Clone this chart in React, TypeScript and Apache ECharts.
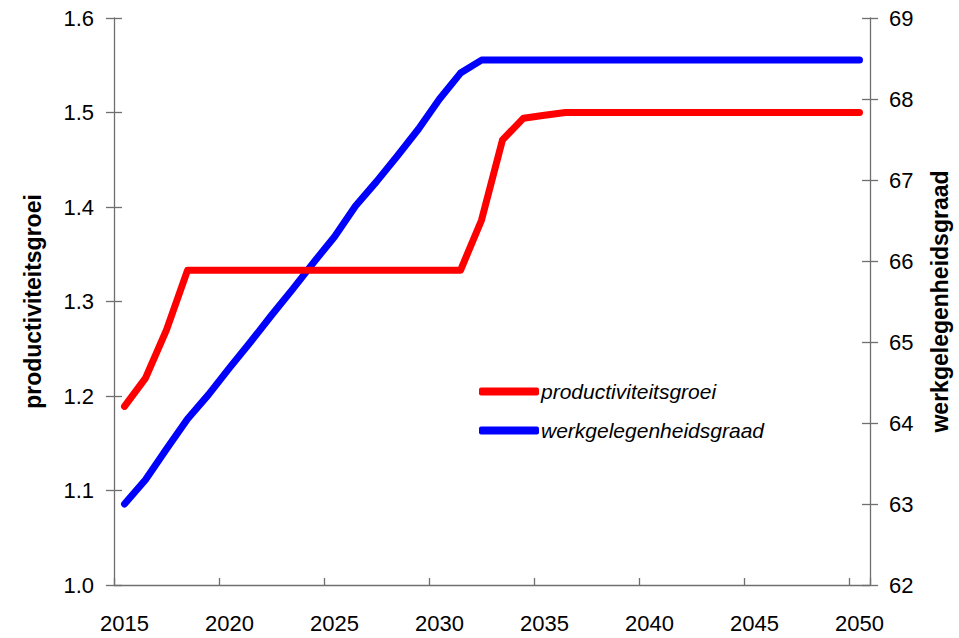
import React, { useEffect, useRef } from "react";
import * as echarts from "echarts";

const years: string[] = [];
for (let y = 2015; y <= 2050; y++) years.push(String(y));

const productiviteitsgroei = [
  1.189, 1.219, 1.27, 1.333, 1.333, 1.333, 1.333, 1.333, 1.333, 1.333,
  1.333, 1.333, 1.333, 1.333, 1.333, 1.333, 1.333, 1.386, 1.471, 1.494,
  1.497, 1.5, 1.5, 1.5, 1.5, 1.5, 1.5, 1.5, 1.5, 1.5,
  1.5, 1.5, 1.5, 1.5, 1.5, 1.5,
];

const werkgelegenheidsgraad = [
  63.0, 63.3, 63.68, 64.05, 64.35, 64.68, 65.0, 65.33, 65.65, 65.98,
  66.3, 66.68, 66.98, 67.3, 67.63, 68.0, 68.32, 68.48, 68.48, 68.48,
  68.48, 68.48, 68.48, 68.48, 68.48, 68.48, 68.48, 68.48, 68.48, 68.48,
  68.48, 68.48, 68.48, 68.48, 68.48, 68.48,
];

const FONT = "'Liberation Sans', Arial, sans-serif";

export default function App() {
  const ref = useRef<HTMLDivElement>(null);
  useEffect(() => {
    if (!ref.current) return;
    const chart = echarts.init(ref.current, null, { renderer: "svg" });
    const axisLineStyle = { color: "#6f6f6f", width: 1.3 };
    const labelStyle = { color: "#000", fontSize: 22, fontFamily: FONT };
    chart.setOption({
      animation: false,
      backgroundColor: "#fff",
      grid: { left: 114, right: 89, top: 18, bottom: 53, containLabel: false, outerBoundsMode: "none" },
      legend: {
        orient: "vertical",
        left: 474,
        top: 376,
        itemWidth: 60,
        itemHeight: 8,
        itemGap: 18,
        icon: "roundRect",
        textStyle: { fontSize: 21, fontStyle: "italic", fontFamily: FONT, color: "#000", padding: [0, 0, 0, -3] },
        data: ["productiviteitsgroei", "werkgelegenheidsgraad"],
      },
      xAxis: {
        type: "category",
        data: years,
        boundaryGap: true,
        axisLine: { show: true, lineStyle: axisLineStyle },
        axisTick: { show: true, interval: 4, inside: true, length: 7, lineStyle: axisLineStyle },
        axisLabel: { show: true, interval: 4, margin: 27, ...labelStyle },
        splitLine: { show: false },
      },
      yAxis: [
        {
          type: "value",
          min: 1.0,
          max: 1.6,
          interval: 0.1,
          position: "left",
          name: "productiviteitsgroei",
          nameLocation: "middle",
          nameRotate: 90,
          nameGap: 70,
          nameTextStyle: { fontSize: 23, fontWeight: "bold", fontFamily: FONT, color: "#000" },
          axisLine: { show: true, lineStyle: axisLineStyle },
          axisTick: { show: true, length: 8, lineStyle: axisLineStyle },
          axisLabel: { margin: 20, formatter: (v: number) => v.toFixed(1), ...labelStyle },
          splitLine: { show: false },
        },
        {
          type: "value",
          min: 62,
          max: 69,
          interval: 1,
          position: "right",
          name: "werkgelegenheidsgraad",
          nameLocation: "middle",
          nameRotate: 90,
          nameGap: 58,
          nameTextStyle: { fontSize: 23, fontWeight: "bold", fontFamily: FONT, color: "#000" },
          axisLine: { show: true, lineStyle: axisLineStyle },
          axisTick: { show: true, length: 8, lineStyle: axisLineStyle },
          axisLabel: { margin: 19, ...labelStyle },
          splitLine: { show: false },
        },
        {
          type: "value",
          min: 1.0,
          max: 1.6,
          interval: 0.1,
          position: "left",
          axisLine: { show: false },
          axisTick: { show: true, inside: true, length: 8, lineStyle: axisLineStyle },
          axisLabel: { show: false },
          splitLine: { show: false },
        },
        {
          type: "value",
          min: 62,
          max: 69,
          interval: 1,
          position: "right",
          axisLine: { show: false },
          axisTick: { show: true, inside: true, length: 8, lineStyle: axisLineStyle },
          axisLabel: { show: false },
          splitLine: { show: false },
        },
      ],
      series: [
        {
          name: "productiviteitsgroei",
          type: "line",
          yAxisIndex: 0,
          data: productiviteitsgroei,
          showSymbol: false,
          symbol: "none",
          color: "#ff0000",
          lineStyle: { color: "#ff0000", width: 7, cap: "round", join: "round" },
          z: 3,
        },
        {
          name: "werkgelegenheidsgraad",
          type: "line",
          yAxisIndex: 1,
          data: werkgelegenheidsgraad,
          showSymbol: false,
          symbol: "none",
          color: "#0000ff",
          lineStyle: { color: "#0000ff", width: 7, cap: "round", join: "round" },
          z: 2,
        },
      ],
    });
    return () => chart.dispose();
  }, []);
  return <div ref={ref} style={{ width: 959, height: 638, position: "absolute", left: 0, top: 0 }} />;
}
